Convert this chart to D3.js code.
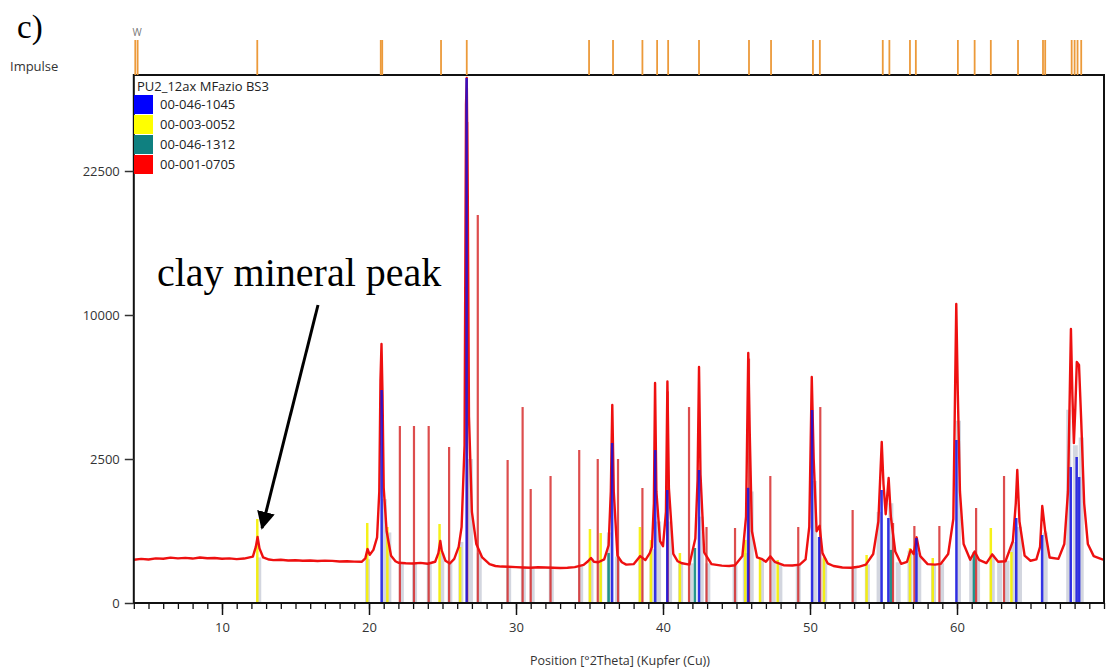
<!DOCTYPE html>
<html><head><meta charset="utf-8">
<script src="https://cdn.jsdelivr.net/npm/d3@7"></script>
<style>
html,body{margin:0;padding:0;background:#fff;}
svg text{font-family:"Open Sans","DejaVu Sans",sans-serif;}
</style></head>
<body>
<svg id="chart" width="1108" height="668"></svg>
<script>
// ---------- DATA ----------
const xDomain = [4, 70];
const yMax = 33611;
const yTickValues = [0, 2500, 10000, 22500];
const xMajorTicks = [10, 20, 30, 40, 50, 60];
const xMinorTicks = d3.range(4, 71, 1);

const legendTitle = "PU2_12ax MFazio BS3";
const legendNames = ["00-046-1045", "00-003-0052", "00-046-1312", "00-001-0705"];
const legendColors = ["#0000ff", "#ffff00", "#0f8080", "#ff0000"];

// measured profile [2theta, counts]
const profile = [
 [4.0,225],[4.5,235],[5.0,228],[5.5,240],[6.0,236],[6.5,248],[7.0,240],[7.5,245],[8.0,238],[8.5,250],[9.0,242],[9.5,244],
 [10.0,236],[10.5,240],[11.0,232],[11.5,238],[12.1,260],[12.3,380],[12.42,525],[12.55,360],[12.8,250],[13.2,228],[13.5,222],
 [14.0,226],[14.5,218],[15.0,220],[15.5,215],[16.0,218],[16.5,212],[17.0,216],[17.5,214],[18.0,208],[18.5,210],[19.0,206],[19.5,205],
 [19.75,240],[19.9,351],[20.05,280],[20.3,340],[20.55,520],[20.7,1500],[20.78,6000],[20.85,8085],[20.92,5200],[21.0,1600],
 [21.2,620],[21.5,270],[21.8,210],[22.0,195],[22.5,190],[23.0,188],[23.5,194],[24.0,186],[24.5,205],[24.72,300],[24.85,463],
 [24.95,330],[25.2,215],[25.5,188],[25.8,235],[26.1,380],[26.3,700],[26.5,3000],[26.6,30000],[26.65,33230],[26.72,20000],
 [26.8,4200],[27.0,1000],[27.3,420],[27.7,250],[28.2,182],[28.6,165],[29.0,160],[29.5,158],[30.0,155],[30.5,152],[31.0,150],
 [31.5,154],[32.0,152],[32.5,150],[33.0,148],[33.5,150],[34.0,155],[34.6,175],[34.9,210],[35.1,244],[35.3,205],[35.6,200],
 [36.0,230],[36.3,400],[36.45,1500],[36.55,4725],[36.65,1500],[36.9,270],[37.2,200],[37.5,178],[38.0,182],[38.45,265],[38.8,222],
 [39.1,300],[39.25,380],[39.38,1200],[39.46,5835],[39.55,1500],[39.8,460],[40.0,390],[40.2,1000],[40.3,5920],[40.4,1600],
 [40.7,290],[41.0,210],[41.3,190],[41.8,178],[42.2,500],[42.35,1800],[42.45,6714],[42.55,2000],[42.8,310],[43.3,182],
 [44.0,168],[44.5,165],[44.9,172],[45.4,265],[45.65,900],[45.8,7535],[45.9,3500],[46.05,620],[46.4,250],[46.7,235],[47.0,205],
 [47.3,262],[47.6,205],[48.2,172],[48.8,170],[49.3,178],[49.7,230],[49.95,700],[50.12,6160],[50.25,2500],[50.45,620],
 [50.65,720],[50.85,300],[51.2,190],[51.6,165],[52.2,152],[52.8,150],[53.3,158],[53.8,178],[54.3,290],[54.65,800],
 [54.88,3125],[55.0,1700],[55.15,950],[55.35,1884],[55.5,900],[55.8,320],[56.2,185],[56.6,205],[56.85,340],[57.05,290],
 [57.25,520],[57.5,265],[58.0,182],[58.5,178],[58.9,185],[59.4,290],[59.75,850],[59.95,10776],[60.05,5470],[60.2,1500],
 [60.45,420],[60.9,225],[61.2,320],[61.5,225],[62.0,192],[62.4,285],[62.8,205],[63.3,210],[63.8,460],[64.0,1200],[64.1,2132],
 [64.25,800],[64.6,270],[65.0,215],[65.4,230],[65.65,380],[65.8,1134],[66.0,620],[66.3,250],[66.9,235],[67.3,420],[67.55,1500],
 [67.75,9050],[67.85,5200],[67.95,3080],[68.05,4600],[68.15,7000],[68.3,6830],[68.45,4000],[68.65,1200],[68.9,420],[69.3,265],
 [69.7,240],[70.0,223]
];

// reference stick patterns [2theta, counts]
const sticksBlue = [
 [20.86,5470],[26.64,33230],[36.54,3086],[39.47,2820],[40.29,1539],[42.45,2133],[45.79,1600],[50.14,4490],[50.62,525],
 [54.87,1539],[55.33,871],[57.24,509],[59.96,3203],[64.03,871],[65.79,557],[67.74,2229],[68.14,2570],[68.31,1914]
];
const sticksYellow = [
 [12.4,851],[19.88,772],[21.25,696],[24.8,752],[26.2,378],[35.03,660],[35.76,590],[38.43,696],[39.18,478],[41.15,301],
 [45.6,480],[46.6,244],[47.8,223],[50.95,255],[53.85,278],[56.8,365],[58.35,244],[62.3,678],[63.7,314]
];
const sticksTeal = [
 [36.3,301],[42.17,365],[55.5,340],[61.15,314]
];
const sticksRed = [
 [22.1,3777],[23.06,3777],[24.06,3777],[25.45,2934],[26.68,27890],[27.4,18150],[29.43,2465],[30.45,4630],[31.0,1567],
 [32.35,1944],[34.3,2822],[35.56,2500],[36.94,2500],[38.6,1594],[40.32,5400],[41.77,4630],[42.96,696],[44.9,678],
 [45.85,7200],[47.3,1944],[49.2,696],[50.7,4630],[52.9,1043],[55.65,772],[57.1,715],[58.8,715],[61.3,1088],[63.2,1944]
];
// grey peak-list bars [2theta, counts]
const greyBars = [
 [12.5,250],[19.9,230],[21.05,1300],[21.35,600],[22.2,200],[23.1,200],[24.1,200],[24.95,300],[25.5,200],[26.25,450],
 [26.9,2500],[27.5,300],[29.5,165],[30.5,160],[31.1,160],[32.4,160],[34.4,170],[35.1,240],[35.7,205],[36.35,600],
 [36.9,260],[38.5,260],[39.25,350],[39.7,800],[40.45,800],[41.2,200],[41.9,190],[42.6,900],[43.05,190],[44.9,170],
 [45.6,300],[46.0,1500],[46.7,235],[47.5,220],[47.95,180],[49.2,180],[50.3,1800],[51.0,240],[53.0,155],[53.9,180],
 [54.7,1000],[55.5,1200],[56.0,200],[56.8,330],[57.4,300],[58.4,180],[58.95,190],[60.1,4000],[61.0,230],[61.4,240],
 [62.4,280],[62.9,205],[63.4,215],[63.85,450],[64.25,700],[66.0,600],[67.6,4500],[68.05,3000],[68.45,3300]
];
// top "Impulse" pane peak positions
const impulse = [
 4.1,4.26,12.4,20.8,20.9,24.9,26.65,34.97,36.6,38.6,39.6,40.35,42.45,45.85,47.35,50.2,50.67,54.95,55.4,56.8,57.2,
 60.06,61.2,62.3,64.15,65.85,66.0,67.8,68.0,68.2,68.45
];

// ---------- CHART ----------
const svg = d3.select("#chart");
const L = 133.8, R = 1104, T = 75, B = 603;
const x = d3.scaleLinear().domain(xDomain).range([L, R]);
const y = d3.scaleSqrt().domain([0, yMax]).range([B, T]);

const plot = svg.append("g");
plot.append("defs").append("clipPath").attr("id","clip")
  .append("rect").attr("x",L).attr("y",T).attr("width",R-L).attr("height",B-T);
const g = plot.append("g").attr("clip-path","url(#clip)");

// grey bars
g.selectAll(".grey").data(greyBars).join("line")
  .attr("x1",d=>x(d[0])).attr("x2",d=>x(d[0]))
  .attr("y1",y(0)).attr("y2",d=>y(d[1]))
  .attr("stroke","#c4c8d4").attr("stroke-opacity",0.75).attr("stroke-width",5);

function sticks(data, color, w, op){
  g.append("g").selectAll("line").data(data).join("line")
    .attr("x1",d=>x(d[0])).attr("x2",d=>x(d[0]))
    .attr("y1",y(0)).attr("y2",d=>y(d[1]))
    .attr("stroke",color).attr("stroke-width",w).attr("stroke-opacity",op);
}
sticks(sticksYellow, "#f5f000", 2.5, 0.9);
sticks(sticksTeal, "#0f8a80", 2.5, 0.9);
sticks(sticksRed, "#d42020", 2.2, 0.8);

// profile
g.append("path").datum(profile)
  .attr("fill","none").attr("stroke","#ee1010").attr("stroke-width",2.4)
  .attr("stroke-linejoin","round")
  .attr("d", d3.line().x(d=>x(d[0])).y(d=>y(d[1])));

sticks(sticksBlue, "#1010e0", 2.5, 0.85);

// frame
svg.append("rect").attr("x",L).attr("y",T).attr("width",R-L).attr("height",B-T)
  .attr("fill","none").attr("stroke","#111").attr("stroke-width",2);

// impulse pane
svg.append("g").selectAll("line").data(impulse).join("line")
  .attr("x1",d=>x(d)).attr("x2",d=>x(d)).attr("y1",40).attr("y2",T)
  .attr("stroke","#ec9a3a").attr("stroke-width",1.8);
svg.append("text").attr("x",137).attr("y",36).attr("font-size",10).attr("fill","#777")
  .attr("text-anchor","middle").text("W");
svg.append("text").attr("x",10).attr("y",71).attr("font-size",13).attr("fill","#333").text("Impulse");

// y axis
const yAxis = svg.append("g").attr("transform",`translate(${L},0)`)
  .call(d3.axisLeft(y).tickValues(yTickValues).tickSize(9).tickPadding(5).tickFormat(d3.format("d")));
yAxis.select(".domain").remove();
yAxis.selectAll("text").attr("font-size",13).attr("fill","#333").style("font-family","'Open Sans',sans-serif");
yAxis.selectAll("line").attr("stroke","#333").attr("stroke-width",1.5);

// x axis minor
const xMinor = svg.append("g").attr("transform",`translate(0,${B})`)
  .call(d3.axisBottom(x).tickValues(xMinorTicks).tickSize(6).tickFormat(""));
xMinor.select(".domain").remove();
xMinor.selectAll("line").attr("stroke","#111").attr("stroke-width",1.3);
const xMajor = svg.append("g").attr("transform",`translate(0,${B})`)
  .call(d3.axisBottom(x).tickValues(xMajorTicks).tickSize(12).tickPadding(8).tickFormat(d3.format("d")));
xMajor.select(".domain").remove();
xMajor.selectAll("line").attr("stroke","#111").attr("stroke-width",1.5);
xMajor.selectAll("text").attr("font-size",13).attr("fill","#333").style("font-family","'Open Sans',sans-serif");

svg.append("text").attr("x",620).attr("y",665).attr("text-anchor","middle")
  .attr("font-size",12.5).attr("fill","#333").text("Position [°2Theta] (Kupfer (Cu))");

// legend
svg.append("text").attr("x",137).attr("y",91).attr("font-size",13).attr("fill","#222").text(legendTitle);
const lg = svg.append("g");
legendNames.forEach((n,i)=>{
  lg.append("rect").attr("x",134).attr("y",95+i*20).attr("width",19).attr("height",19).attr("fill",legendColors[i]);
  lg.append("text").attr("x",160).attr("y",109+i*20).attr("font-size",13).attr("fill","#222").text(n);
});

// annotations
svg.append("text").attr("x",17).attr("y",38).attr("font-size",33)
  .style("font-family","'Liberation Serif','Times New Roman',serif").attr("fill","#000").text("c)");
svg.append("text").attr("x",157).attr("y",286).attr("font-size",40)
  .style("font-family","'Liberation Serif','Times New Roman',serif").attr("fill","#000").text("clay mineral peak");
svg.append("defs").append("marker").attr("id","arr").attr("viewBox","0 0 10 10")
  .attr("refX",9).attr("refY",5).attr("markerWidth",6).attr("markerHeight",6).attr("orient","auto")
  .append("path").attr("d","M0,0 L10,5 L0,10 z").attr("fill","#000");
svg.append("line").attr("x1",318).attr("y1",305).attr("x2",262).attr("y2",528)
  .attr("stroke","#000").attr("stroke-width",3).attr("marker-end","url(#arr)");
</script>
</body></html>
